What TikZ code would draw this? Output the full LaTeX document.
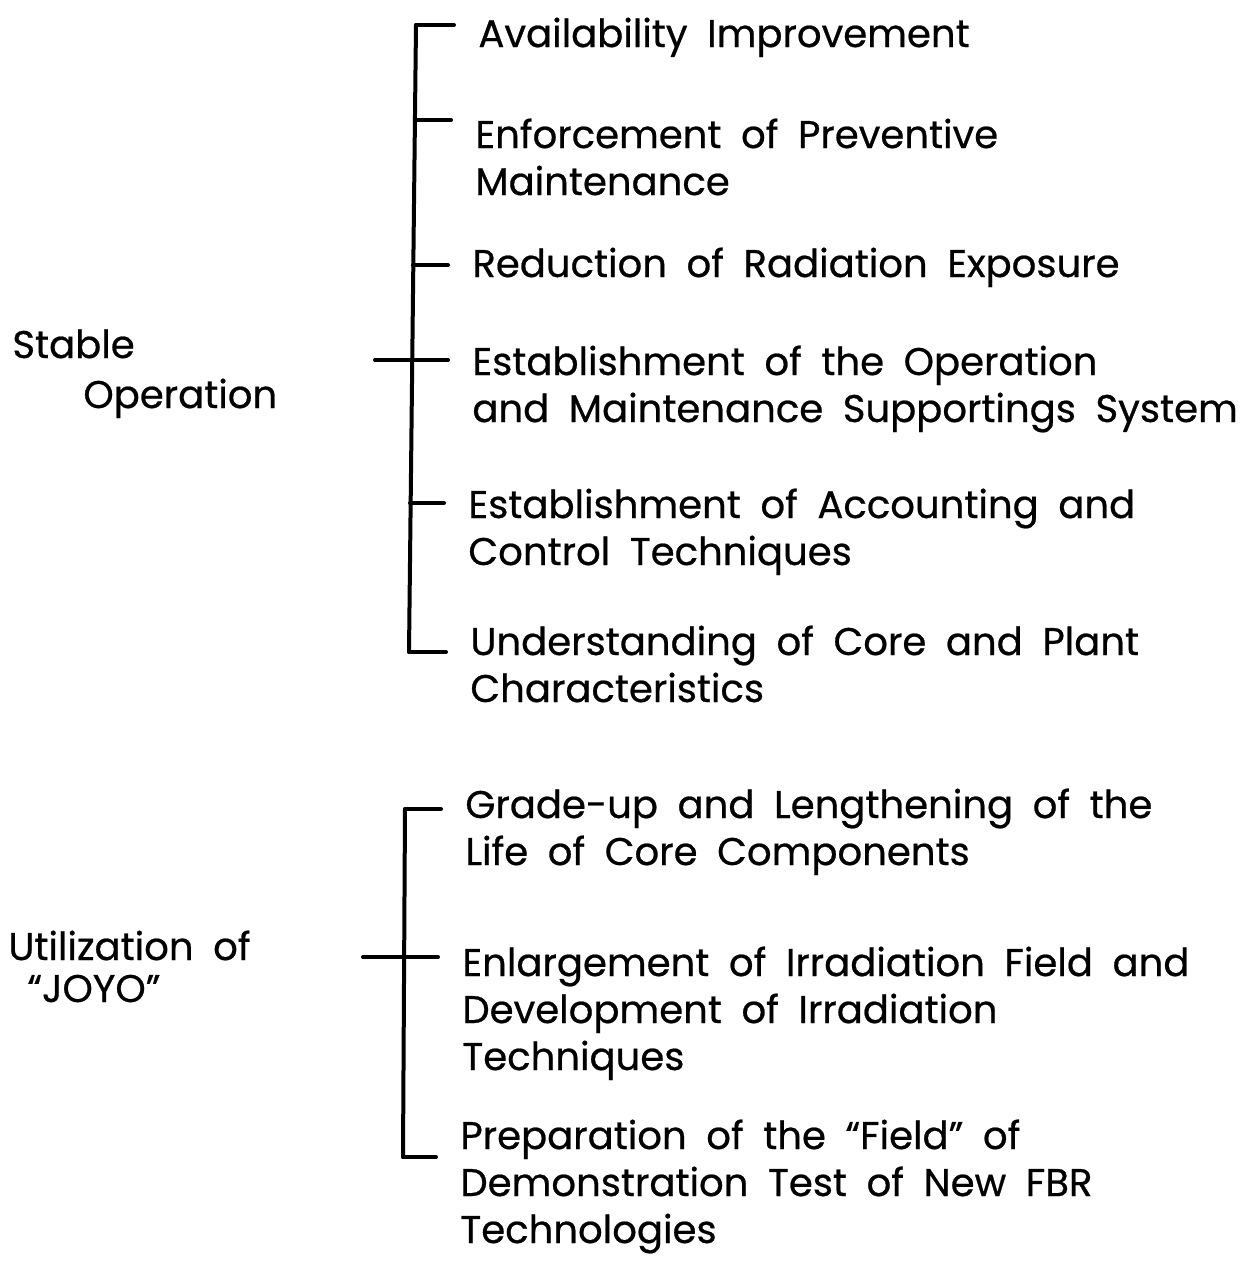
\documentclass[tikz,border=0pt]{standalone}
\usepackage{fontspec}
\setmainfont[WordSpace=1.9, FakeBold=0.6]{Poppins}
\usetikzlibrary{positioning}

\tikzset{
  % nodes sit on the baseline of their last line
  item/.style={anchor=base west, align=left, inner sep=0pt,
    font=\fontsize{19.3}{23.5}\selectfont},
  topic/.style={item},
  bracket/.style={line width=2pt, line cap=round, line join=round},
  tick/.style={bracket, shorten >=12pt}
}

\begin{document}
\begin{tikzpicture}[x=0.5pt, y=-0.5pt]
\useasboundingbox (0,0) rectangle (1252,1281);

% left hand topics
\node[topic, font=\fontsize{19.3}{25}\selectfont] (stable) at (12,408) {Stable\\\hspace*{35.5pt}Operation};
\node[topic, font=\fontsize{19.3}{21}\selectfont] (util) at (8,1002) {Utilization of\\\hspace*{9.5pt}“JOYO”};

% items of the first group
\node[item] (avail) at (478,47) {Availability Improvement};
\node[item] (enf) at (475,195) {Enforcement of Preventive\\Maintenance};
\node[item] (red) at (472,277) {Reduction of Radiation Exposure};
\node[item] (est) at (472,422) {Establishment of the Operation\\and Maintenance Supportings System};
\node[item] (acc) at (468,565) {Establishment of Accounting and\\Control Techniques};
\node[item] (und) at (470,702) {Understanding of Core and Plant\\Characteristics};

% items of the second group
\node[item] (grade) at (465,865) {Grade-up and Lengthening of the\\Life of Core Components};
\node[item] (enl) at (462,1070) {Enlargement of Irradiation Field and\\Development of Irradiation\\Techniques};
\node[item] (prep) at (460,1243) {Preparation of the “Field” of\\Demonstration Test of New FBR\\Technologies};

% branch points on the upper bracket
\coordinate (s1) at (416,25);
\coordinate (s2) at (415,120);
\coordinate (s3) at (413,265);
\coordinate (s4) at (412,360);
\coordinate (s5) at (410,503);
\coordinate (s6) at (409,652);
\coordinate (s0) at (375,360);

\draw[bracket] (s1) -- (s6);
\draw[tick] (s1) -- (s1 -| avail.west);
\draw[tick] (s2) -- (s2 -| enf.west);
\draw[tick] (s3) -- (s3 -| red.west);
\draw[tick] (s4) -- (s4 -| est.west);
\draw[tick] (s5) -- (s5 -| acc.west);
\draw[tick] (s6) -- (s6 -| und.west);
\draw[bracket] (s0) -- (s4);

% branch points on the lower bracket
\coordinate (u1) at (405,809);
\coordinate (u2) at (405,957);
\coordinate (u3) at (403,1157);
\coordinate (u0) at (363,957);

\draw[bracket] (u1) -- (u3);
\draw[tick] (u1) -- (u1 -| grade.west);
\draw[tick] (u2) -- (u2 -| enl.west);
\draw[tick] (u3) -- (u3 -| prep.west);
\draw[bracket] (u0) -- (u2);
\end{tikzpicture}
\end{document}
